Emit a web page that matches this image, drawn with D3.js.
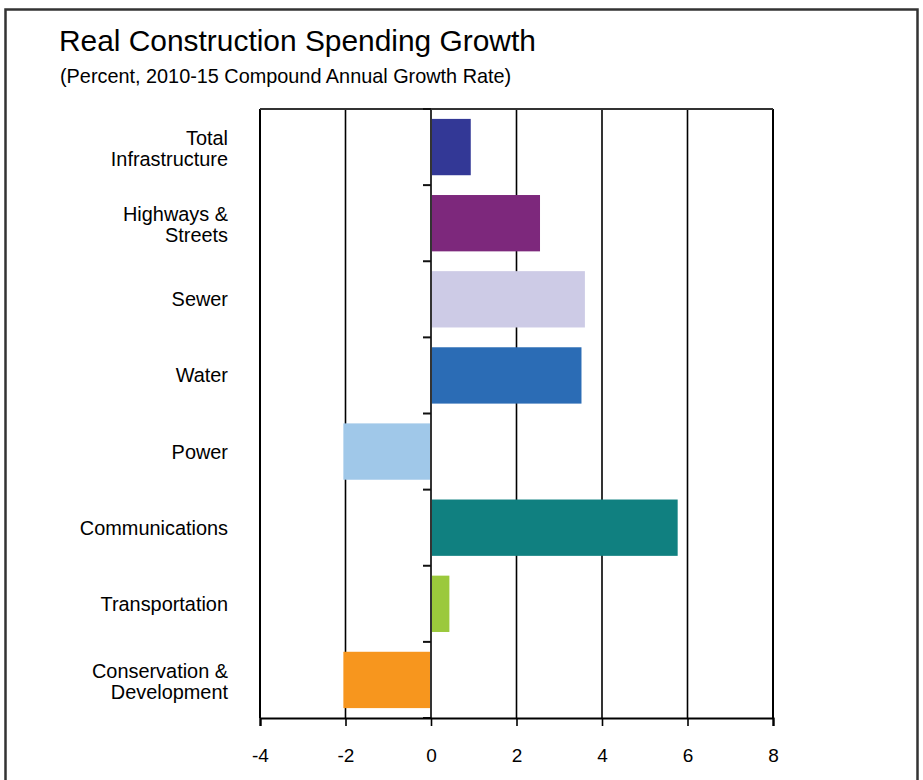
<!DOCTYPE html>
<html>
<head>
<meta charset="utf-8">
<script src="https://cdn.jsdelivr.net/npm/d3@7"></script>
<style>
  body { margin: 0; background: #fff; }
  text { font-family: "Liberation Sans", Arial, sans-serif; fill: #000; }
</style>
</head>
<body>
<div id="figure"></div>
<script>
// chart data
const categories = ["Total Infrastructure", "Highways & Streets", "Sewer", "Water", "Power", "Communications", "Transportation", "Conservation & Development"];
const labelLines = [["Total", "Infrastructure"], ["Highways &", "Streets"], ["Sewer"], ["Water"], ["Power"], ["Communications"], ["Transportation"], ["Conservation &", "Development"]];
const values = [0.93, 2.55, 3.6, 3.52, -2.05, 5.77, 0.43, -2.05];
const barColors = ["#333896", "#7d287c", "#cdcbe6", "#2b6cb5", "#a0c8e9", "#108080", "#9bc93c", "#f7961e"];
const xTicks = [-4, -2, 0, 2, 4, 6, 8];

const W = 923, H = 780;
const margin = { top: 109, right: 150, bottom: 62, left: 260 };
const width = W - margin.left - margin.right;
const height = H - margin.top - margin.bottom;

const svg = d3.select("#figure")
    .append("svg")
    .attr("width", W)
    .attr("height", H);

// outer frame
svg.append("rect")
    .attr("x", 5.5).attr("y", 9.5)
    .attr("width", 912).attr("height", 800)
    .attr("fill", "none")
    .attr("stroke", "#333")
    .attr("stroke-width", 2.5);

svg.append("text")
    .attr("x", 59).attr("y", 51)
    .attr("font-size", 29.9)
    .text("Real Construction Spending Growth");
svg.append("text")
    .attr("x", 60).attr("y", 83)
    .attr("font-size", 19.85)
    .text("(Percent, 2010-15 Compound Annual Growth Rate)");

const g = svg.append("g")
    .attr("transform", `translate(${margin.left},${margin.top})`);

const x = d3.scaleLinear().domain([-4, 8]).range([0, width]);
const y = d3.scaleBand()
    .domain(categories)
    .range([0, height])
    .paddingInner(0.26)
    .paddingOuter(0.13);

// vertical grid lines, incl. frame sides (drawn under the bars)
g.selectAll("line.grid")
    .data(xTicks)
    .join("line")
    .attr("class", "grid")
    .attr("x1", d => x(d)).attr("x2", d => x(d))
    .attr("y1", 0).attr("y2", height)
    .attr("stroke", "#000")
    .attr("stroke-width", d => (d === -4 || d === 8) ? 2 : 1.6);

// top frame line
g.append("line")
    .attr("x1", 0).attr("x2", width)
    .attr("y1", 0).attr("y2", 0)
    .attr("stroke", "#333")
    .attr("stroke-width", 2);

// category tick marks on the zero line
const step = y.step();
g.selectAll("line.ytick")
    .data(d3.range(categories.length + 1))
    .join("line")
    .attr("class", "ytick")
    .attr("x1", x(0) - 8).attr("x2", x(0))
    .attr("y1", d => d * step).attr("y2", d => d * step)
    .attr("stroke", "#111")
    .attr("stroke-width", 2);

// bars
g.selectAll("rect.bar")
    .data(values)
    .join("rect")
    .attr("class", "bar")
    .attr("x", d => d < 0 ? x(d) : x(0) + 1)
    .attr("y", (d, i) => y(categories[i]))
    .attr("width", d => Math.abs(x(d) - x(0)) - 1)
    .attr("height", y.bandwidth())
    .attr("fill", (d, i) => barColors[i]);

// category labels
g.selectAll("g.lab")
    .data(categories)
    .join("g")
    .attr("class", "lab")
    .each(function (d, i) {
        const lines = labelLines[i];
        const cy = y(d) + y.bandwidth() / 2;
        const start = lines.length === 1 ? cy + 7 : cy - 2;
        lines.forEach((t, j) => {
            d3.select(this).append("text")
                .attr("x", -32)
                .attr("y", start + j * 21)
                .attr("font-size", 19.9)
                .attr("text-anchor", "end")
                .text(t);
        });
    });

// x axis
const xAxis = g.append("g")
    .attr("transform", `translate(0,${height})`)
    .call(d3.axisBottom(x).tickValues(xTicks).tickSize(8).tickPadding(23));
xAxis.select(".domain").attr("stroke", "#000").attr("stroke-width", 2.2);
xAxis.selectAll(".tick line").attr("stroke", "#000").attr("stroke-width", 1.6);
xAxis.selectAll(".tick text")
    .attr("font-size", 19)
    .attr("font-family", "Liberation Sans, Arial, sans-serif")
    .attr("fill", "#000")
    .text(d => d < 0 ? "-" + Math.abs(d) : d);
</script>
</body>
</html>
